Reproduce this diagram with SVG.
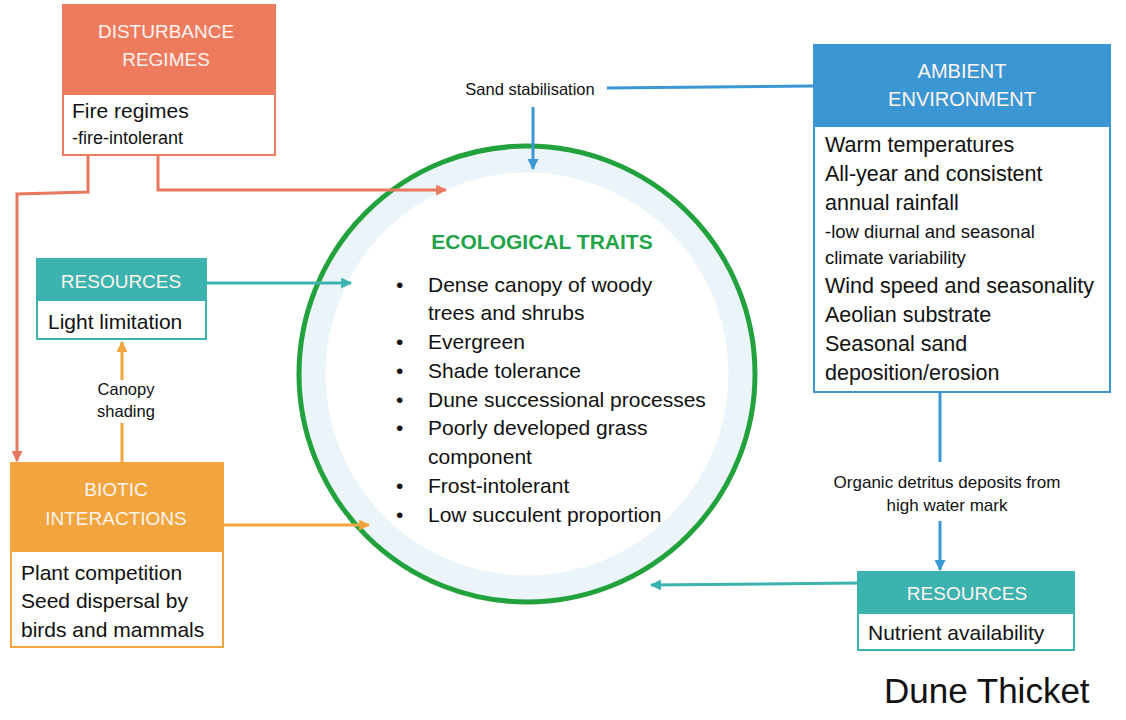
<svg xmlns="http://www.w3.org/2000/svg" width="1126" height="720" viewBox="0 0 1126 720">
<defs>
<style>
text{font-family:"Liberation Sans",Arial,sans-serif;fill:#111}
.hd{fill:#FFF4EF;font-size:19px;text-anchor:middle}
.bd{font-size:21px}
.sm{font-size:16.5px}
.ln{fill:none;stroke-width:3}
.red{stroke:#EA7860}.teal{stroke:#3CB3AF}.org{stroke:#F2A53E}.blu{stroke:#3A97D3}
</style>
<marker id="aR" viewBox="0 0 10 10" refX="9" refY="5" markerWidth="11" markerHeight="11" markerUnits="userSpaceOnUse" orient="auto"><path d="M0 0L10 5L0 10z" fill="#EA7860"/></marker>
<marker id="aT" viewBox="0 0 10 10" refX="9" refY="5" markerWidth="11" markerHeight="11" markerUnits="userSpaceOnUse" orient="auto"><path d="M0 0L10 5L0 10z" fill="#3CB3AF"/></marker>
<marker id="aO" viewBox="0 0 10 10" refX="9" refY="5" markerWidth="11" markerHeight="11" markerUnits="userSpaceOnUse" orient="auto"><path d="M0 0L10 5L0 10z" fill="#F2A53E"/></marker>
<marker id="aB" viewBox="0 0 10 10" refX="9" refY="5" markerWidth="11" markerHeight="11" markerUnits="userSpaceOnUse" orient="auto"><path d="M0 0L10 5L0 10z" fill="#3A97D3"/></marker>
</defs>
<rect width="1126" height="720" fill="#fff"/>

<g id="ecological-traits">
<circle cx="527" cy="374" r="214" fill="#fff" stroke="#EBF5F9" stroke-width="25"/>
<circle cx="527" cy="374" r="228" fill="none" stroke="#22A23C" stroke-width="5"/>
<text x="542" y="249" text-anchor="middle" style="font-weight:bold;font-size:21px;fill:#22A34A">ECOLOGICAL TRAITS</text>
<g class="bd">
<text x="396" y="292">•</text><text x="428" y="292">Dense canopy of woody</text>
<text x="428" y="320">trees and shrubs</text>
<text x="396" y="349">•</text><text x="428" y="349">Evergreen</text>
<text x="396" y="378">•</text><text x="428" y="378">Shade tolerance</text>
<text x="396" y="407">•</text><text x="428" y="407">Dune successional processes</text>
<text x="396" y="435">•</text><text x="428" y="435">Poorly developed grass</text>
<text x="428" y="464">component</text>
<text x="396" y="493">•</text><text x="428" y="493">Frost-intolerant</text>
<text x="396" y="522">•</text><text x="428" y="522">Low succulent proportion</text>
</g>
</g>

<g id="connectors">
<path class="ln red" d="M88 156V192L17 194V461" marker-end="url(#aR)"/>
<path class="ln red" d="M158 156V190H446" marker-end="url(#aR)"/>
<path class="ln teal" d="M207 283H351" marker-end="url(#aT)"/>
<path class="ln org" d="M224 525H369" marker-end="url(#aO)"/>
<path class="ln org" d="M122 462V423"/>
<path class="ln org" d="M122 380V342" marker-end="url(#aO)"/>
<path class="ln blu" d="M813 86L607 88"/>
<path class="ln blu" d="M533 107V169" marker-end="url(#aB)"/>
<path class="ln blu" d="M940 393V462"/>
<path class="ln blu" d="M940 521V570" marker-end="url(#aB)"/>
<path class="ln teal" d="M857 583L651 585" marker-end="url(#aT)"/>
<text class="sm" x="530" y="95" text-anchor="middle">Sand stabilisation</text>
<text class="sm" x="126" y="395" text-anchor="middle">Canopy</text>
<text class="sm" x="126" y="417" text-anchor="middle">shading</text>
<text x="947" y="488" text-anchor="middle" style="font-size:17px">Organic detritus deposits from</text>
<text x="947" y="511" text-anchor="middle" style="font-size:17px">high water mark</text>
</g>

<g id="disturbance-regimes">
<rect x="63" y="5" width="212" height="150" fill="#fff" stroke="#EF7B5F" stroke-width="2"/>
<rect x="62" y="4" width="214" height="91" fill="#EF7B5F"/>
<text class="hd" x="166" y="38">DISTURBANCE</text>
<text class="hd" x="166" y="66">REGIMES</text>
<text class="bd" x="72" y="118">Fire regimes</text>
<text x="72" y="144" style="font-size:18px">-fire-intolerant</text>
</g>

<g id="resources-light">
<rect x="37" y="259" width="169" height="80" fill="#fff" stroke="#3CB3AF" stroke-width="2"/>
<rect x="36" y="258" width="171" height="43" fill="#3CB3AF"/>
<text class="hd" x="121" y="288">RESOURCES</text>
<text class="bd" x="48" y="329">Light limitation</text>
</g>

<g id="biotic-interactions">
<rect x="11" y="463" width="212" height="184" fill="#fff" stroke="#F2A53E" stroke-width="2"/>
<rect x="10" y="462" width="214" height="90" fill="#F2A53E"/>
<text class="hd" x="116" y="496">BIOTIC</text>
<text class="hd" x="116" y="525">INTERACTIONS</text>
<text class="bd" x="21" y="580">Plant competition</text>
<text class="bd" x="21" y="608">Seed dispersal by</text>
<text class="bd" x="21" y="637">birds and mammals</text>
</g>

<g id="ambient-environment">
<rect x="814" y="45" width="296" height="347" fill="#fff" stroke="#3A97D3" stroke-width="2"/>
<rect x="813" y="44" width="298" height="83" fill="#3A97D3"/>
<text class="hd" x="962" y="78" style="font-size:20px">AMBIENT</text>
<text class="hd" x="962" y="106" style="font-size:20px">ENVIRONMENT</text>
<g style="font-size:21.5px">
<text x="825" y="152">Warm temperatures</text>
<text x="825" y="181">All-year and consistent</text>
<text x="825" y="210">annual rainfall</text>
<text x="825" y="238" style="font-size:18.5px">-low diurnal and seasonal</text>
<text x="825" y="264" style="font-size:18.5px">climate variability</text>
<text x="825" y="293">Wind speed and seasonality</text>
<text x="825" y="322">Aeolian substrate</text>
<text x="825" y="351">Seasonal sand</text>
<text x="825" y="380">deposition/erosion</text>
</g>
</g>

<g id="resources-nutrient">
<rect x="858" y="572" width="216" height="78" fill="#fff" stroke="#3CB3AF" stroke-width="2"/>
<rect x="857" y="571" width="218" height="43" fill="#3CB3AF"/>
<text class="hd" x="967" y="600">RESOURCES</text>
<text class="bd" x="868" y="640">Nutrient availability</text>
</g>

<text x="884" y="703" style="font-size:35px">Dune Thicket</text>
</svg>
